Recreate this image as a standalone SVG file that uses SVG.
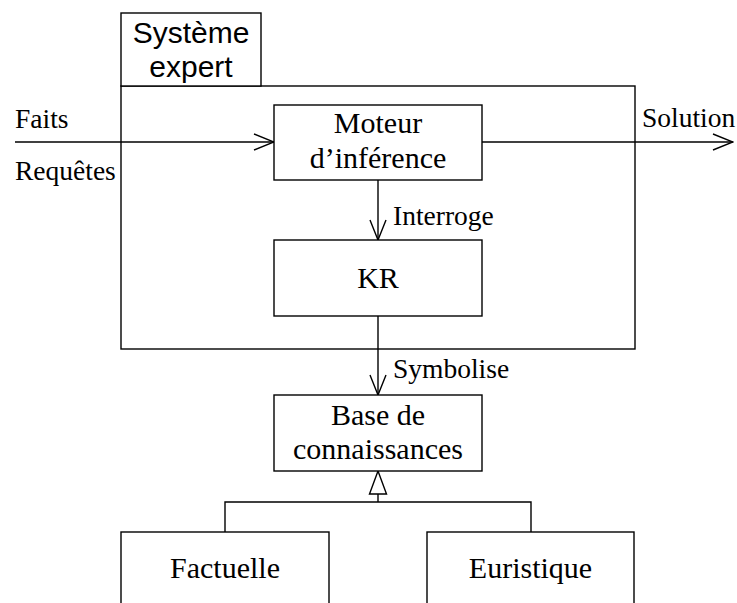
<svg xmlns="http://www.w3.org/2000/svg" width="737" height="603" viewBox="0 0 737 603">
<defs>
<style>
.box{fill:#fff;stroke:#000;stroke-width:1.4}
.ln{fill:none;stroke:#000;stroke-width:1.4}
.t{font-family:"Liberation Serif","Times New Roman",serif;font-size:30px;fill:#000;text-anchor:middle}
.lbl{font-family:"Liberation Serif","Times New Roman",serif;font-size:27.5px;fill:#000}
.sans{font-family:"Liberation Sans",Arial,sans-serif;font-size:30px;fill:#000;text-anchor:middle}
</style>
<marker id="open" viewBox="0 0 22 18" refX="21" refY="9" markerWidth="22" markerHeight="18" markerUnits="userSpaceOnUse" orient="auto">
<path d="M1,1 L21,9 L1,17" fill="none" stroke="#000" stroke-width="1.4"/>
</marker>
</defs>
<rect width="737" height="603" fill="#fff"/>
<g id="systeme-expert">
<rect class="box" x="121" y="86" width="514" height="263"/>
<rect class="box" x="121" y="13" width="140" height="73"/>
<text class="sans" x="191" y="43">Système</text>
<text class="sans" x="191" y="77">expert</text>
</g>
<g id="connectors">
<line class="ln" x1="15" y1="142" x2="274" y2="142" marker-end="url(#open)"/>
<line class="ln" x1="482" y1="142" x2="733" y2="142" marker-end="url(#open)"/>
<line class="ln" x1="378" y1="180" x2="378" y2="240" marker-end="url(#open)"/>
<line class="ln" x1="378" y1="316" x2="378" y2="395" marker-end="url(#open)"/>
<polygon class="box" points="378,471 386.5,494 369.5,494"/>
<polyline class="ln" points="378,494 378,502"/>
<polyline class="ln" points="225,532 225,502 531,502 531,532"/>
<text class="lbl" x="15" y="128">Faits</text>
<text class="lbl" x="15" y="180">Requêtes</text>
<text class="lbl" x="642" y="127">Solution</text>
<text class="lbl" x="393" y="225">Interroge</text>
<text class="lbl" x="393" y="378">Symbolise</text>
</g>
<g id="moteur">
<rect class="box" x="274" y="105" width="208" height="75"/>
<text class="t" x="378" y="133">Moteur</text>
<text class="t" x="378" y="168">d’inférence</text>
</g>
<g id="kr">
<rect class="box" x="274" y="240" width="208" height="76"/>
<text class="t" x="378" y="288">KR</text>
</g>
<g id="base">
<rect class="box" x="274" y="395" width="208" height="76"/>
<text class="t" x="378" y="425">Base de</text>
<text class="t" x="378" y="459">connaissances</text>
</g>
<g id="factuelle">
<rect class="box" x="121" y="532" width="208" height="80"/>
<text class="t" x="225" y="578">Factuelle</text>
</g>
<g id="euristique">
<rect class="box" x="427" y="532" width="207" height="80"/>
<text class="t" x="530.5" y="578">Euristique</text>
</g>
</svg>
